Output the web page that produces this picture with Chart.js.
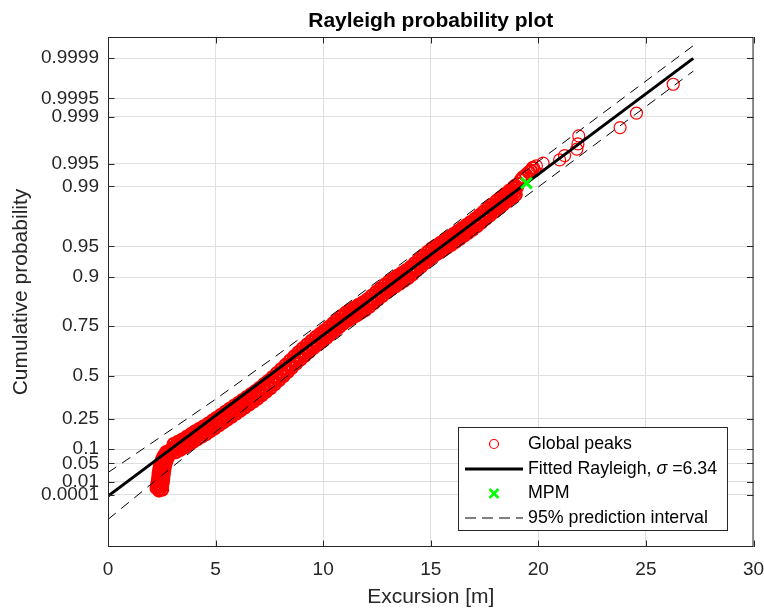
<!DOCTYPE html>
<html>
<head>
<meta charset="utf-8">
<title>Rayleigh probability plot</title>
<script src="https://cdn.jsdelivr.net/npm/chart.js@4.4.1/dist/chart.umd.min.js"></script>
<style>
  html, body { margin: 0; padding: 0; background: #ffffff; }
  #wrap { width: 764px; height: 610px; }
</style>
</head>
<body>
<div id="wrap"><canvas id="probCanvas" width="764" height="610"></canvas></div>
<script>
// Rayleigh scale parameter of the fit
const sigma = 6.34;

// probability levels on the y axis
const probTicks = [0.0001, 0.01, 0.05, 0.1, 0.25, 0.5, 0.75, 0.9, 0.95, 0.99, 0.995, 0.999, 0.9995, 0.9999];
const probLabels = ["0.0001", "0.01", "0.05", "0.1", "0.25", "0.5", "0.75", "0.9", "0.95", "0.99", "0.995", "0.999", "0.9995", "0.9999"];

// global peaks: excursion [m] and Rayleigh variate sqrt(-2 ln(1-P))
const peakExcursion = [
  // smallest peaks, steep part
  2.37, 2.42, 2.33, 2.46, 2.36, 2.49, 2.38, 2.51, 2.40, 2.53, 2.42, 2.55, 2.45, 2.58, 2.48, 2.62, 2.53, 2.68, 2.60, 2.75, 2.70, 2.85, 2.80, 2.95,
  2.515, 2.255, 2.515, 2.29, 2.545, 2.315, 2.565, 2.335, 2.585, 2.355, 2.605, 2.38, 2.635, 2.41, 2.67, 2.455, 2.725, 2.52, 2.795, 2.605, 2.895, 2.705, 2.995,
  // main body
  3.0, 3.1, 3.2, 3.3, 3.4, 3.5, 3.6, 3.7, 3.8, 3.9,
  4.0, 4.1, 4.2, 4.3, 4.4, 4.5, 4.6, 4.7, 4.8, 4.9,
  5.0, 5.1, 5.2, 5.3, 5.4, 5.5, 5.6, 5.7, 5.8, 5.9,
  6.0, 6.1, 6.2, 6.3, 6.4, 6.5, 6.6, 6.7, 6.8, 6.9,
  7.0, 7.1, 7.2, 7.3, 7.4, 7.5, 7.6, 7.7, 7.8, 7.9,
  8.0, 8.1, 8.2, 8.3, 8.4, 8.5, 8.6, 8.7, 8.8, 8.9,
  9.0, 9.1, 9.2, 9.3, 9.4, 9.5, 9.6, 9.7, 9.8, 9.9,
  10.0, 10.1, 10.2, 10.3, 10.4, 10.5, 10.6, 10.7, 10.8, 10.9,
  11.0, 11.1, 11.2, 11.3, 11.4, 11.5, 11.6, 11.7, 11.8, 11.9,
  12.0, 12.1, 12.2, 12.3, 12.4, 12.5, 12.6, 12.7, 12.8, 12.9,
  13.0, 13.1, 13.2, 13.3, 13.4, 13.5, 13.6, 13.7, 13.8, 13.9,
  14.0, 14.1, 14.2, 14.3, 14.4, 14.5, 14.6, 14.7, 14.8, 14.9,
  15.0, 15.1, 15.2, 15.3, 15.4, 15.5, 15.6, 15.7, 15.8, 15.9,
  16.0, 16.1, 16.2, 16.3, 16.4, 16.5, 16.6, 16.7, 16.8, 16.9,
  17.0, 17.1, 17.2, 17.3, 17.4, 17.5, 17.6, 17.7, 17.8, 17.9,
  18.0, 18.1, 18.2, 18.3, 18.4, 18.5, 18.6, 18.7, 18.8, 18.9,
  19.0,
  3.05, 3.15, 3.25, 3.35, 3.45, 3.55, 3.65, 3.75, 3.85, 3.95,
  4.05, 4.15, 4.25, 4.35, 4.45, 4.55, 4.65, 4.75, 4.85, 4.95,
  5.05, 5.15, 5.25, 5.35, 5.45, 5.55, 5.65, 5.75, 5.85, 5.95,
  6.05, 6.15, 6.25, 6.35, 6.45, 6.55, 6.65, 6.75, 6.85, 6.95,
  7.05, 7.15, 7.25, 7.35, 7.45, 7.55, 7.65, 7.75, 7.85, 7.95,
  8.05, 8.15, 8.25, 8.35, 8.45, 8.55, 8.65, 8.75, 8.85, 8.95,
  9.05, 9.15, 9.25, 9.35, 9.45, 9.55, 9.65, 9.75, 9.85, 9.95,
  10.05, 10.15, 10.25, 10.35, 10.45, 10.55, 10.65, 10.75, 10.85, 10.95,
  11.05, 11.15, 11.25, 11.35, 11.45, 11.55, 11.65, 11.75, 11.85, 11.95,
  12.05, 12.15, 12.25, 12.35, 12.45, 12.55, 12.65, 12.75, 12.85, 12.95,
  13.05, 13.15, 13.25, 13.35, 13.45, 13.55, 13.65, 13.75, 13.85, 13.95,
  14.05, 14.15, 14.25, 14.35, 14.45, 14.55, 14.65, 14.75, 14.85, 14.95,
  15.05, 15.15, 15.25, 15.35, 15.45, 15.55, 15.65, 15.75, 15.85, 15.95,
  16.05, 16.15, 16.25, 16.35, 16.45, 16.55, 16.65, 16.75, 16.85, 16.95,
  17.05, 17.15, 17.25, 17.35, 17.45, 17.55, 17.65, 17.75, 17.85, 17.95,
  18.05, 18.15, 18.25, 18.35, 18.45, 18.55, 18.65, 18.75, 18.85, 18.95,
  // upper tail
  18.60, 18.78, 18.92, 19.06, 19.20, 19.29, 19.43, 19.56, 19.66, 19.75,
  19.83, 19.91, 20.22, 20.99, 21.22, 21.79, 21.84, 21.88, 23.80, 24.56, 26.27
];
const peakVariate = [
  0.053, 0.070, 0.088, 0.105, 0.122, 0.140, 0.158, 0.176, 0.194, 0.212, 0.230, 0.248, 0.266, 0.284, 0.302, 0.320, 0.338, 0.356, 0.374, 0.392, 0.408, 0.424, 0.438, 0.452,
  0.062, 0.079, 0.097, 0.114, 0.131, 0.149, 0.167, 0.185, 0.203, 0.221, 0.239, 0.257, 0.275, 0.293, 0.311, 0.329, 0.347, 0.365, 0.383, 0.400, 0.416, 0.431, 0.445,
  0.474, 0.454, 0.495, 0.476, 0.517, 0.498, 0.542, 0.526, 0.569, 0.553,
  0.597, 0.580, 0.622, 0.604, 0.647, 0.629, 0.672, 0.656, 0.701, 0.685,
  0.730, 0.714, 0.758, 0.743, 0.787, 0.772, 0.816, 0.801, 0.845, 0.830,
  0.874, 0.859, 0.904, 0.888, 0.933, 0.917, 0.962, 0.946, 0.991, 0.975,
  1.022, 1.010, 1.057, 1.044, 1.091, 1.078, 1.126, 1.116, 1.166, 1.156,
  1.205, 1.195, 1.245, 1.235, 1.286, 1.277, 1.327, 1.318, 1.369, 1.359,
  1.408, 1.397, 1.445, 1.434, 1.482, 1.471, 1.519, 1.505, 1.551, 1.537,
  1.583, 1.570, 1.618, 1.606, 1.653, 1.641, 1.689, 1.677, 1.724, 1.712,
  1.760, 1.743, 1.786, 1.768, 1.811, 1.794, 1.837, 1.820, 1.863, 1.845,
  1.888, 1.876, 1.924, 1.911, 1.959, 1.947, 1.995, 1.982, 2.030, 2.018,
  2.066, 2.049, 2.093, 2.077, 2.121, 2.105, 2.148, 2.132, 2.176, 2.160,
  2.204, 2.192, 2.241, 2.230, 2.279, 2.267, 2.316, 2.305, 2.353, 2.342,
  2.391, 2.375, 2.418, 2.402, 2.446, 2.430, 2.474, 2.458, 2.501, 2.485,
  2.529, 2.514, 2.558, 2.543, 2.588, 2.573, 2.618, 2.602, 2.647, 2.632,
  2.677, 2.665, 2.712, 2.700, 2.748, 2.736, 2.783, 2.771, 2.819, 2.806,
  2.854, 2.841, 2.888, 2.874, 2.921, 2.908, 2.955, 2.941, 2.988, 2.975,
  3.022,
  0.509, 0.430, 0.531, 0.452, 0.553, 0.475, 0.579, 0.503, 0.606, 0.530,
  0.634, 0.556, 0.658, 0.581, 0.683, 0.606, 0.709, 0.634, 0.738, 0.663,
  0.767, 0.691, 0.796, 0.720, 0.825, 0.749, 0.854, 0.778, 0.883, 0.807,
  0.912, 0.837, 0.941, 0.866, 0.970, 0.895, 0.999, 0.924, 1.028, 0.954,
  1.061, 0.989, 1.096, 1.023, 1.130, 1.057, 1.166, 1.096, 1.206, 1.136,
  1.245, 1.175, 1.285, 1.216, 1.327, 1.257, 1.368, 1.299, 1.409, 1.339,
  1.448, 1.376, 1.485, 1.413, 1.522, 1.450, 1.557, 1.483, 1.589, 1.515,
  1.622, 1.549, 1.657, 1.585, 1.692, 1.620, 1.728, 1.656, 1.763, 1.691,
  1.797, 1.720, 1.822, 1.745, 1.848, 1.771, 1.874, 1.797, 1.899, 1.822,
  1.927, 1.855, 1.963, 1.890, 1.998, 1.926, 2.034, 1.961, 2.069, 1.997,
  2.103, 2.026, 2.130, 2.054, 2.158, 2.082, 2.185, 2.109, 2.213, 2.137,
  2.243, 2.172, 2.281, 2.210, 2.318, 2.247, 2.356, 2.284, 2.393, 2.322,
  2.428, 2.352, 2.455, 2.379, 2.483, 2.407, 2.511, 2.435, 2.538, 2.462,
  2.567, 2.491, 2.596, 2.521, 2.626, 2.551, 2.655, 2.580, 2.685, 2.610,
  2.716, 2.644, 2.751, 2.679, 2.787, 2.715, 2.822, 2.750, 2.858, 2.785,
  2.893, 2.820, 2.926, 2.853, 2.960, 2.887, 2.993, 2.920, 3.027, 2.954,
  2.972, 3.002, 3.041, 3.060, 3.100, 3.124, 3.148, 3.173, 3.188, 3.217,
  3.191, 3.237, 3.263, 3.295, 3.337, 3.400, 3.452, 3.530, 3.612, 3.753, 4.037
];

// most probable maximum
const mpmExcursion = [19.45];
const mpmVariate = [3.068];

// extent of the fitted line
const fitExcursion = [0, 27.2];

// 95% prediction interval bounds
const bandExcursion = [0, 2, 5, 8, 12, 16, 20, 24, 27.2];
const upperVariate = [0.230, 0.515, 0.949, 1.402, 2.023, 2.649, 3.280, 3.911, 4.415];
const lowerVariate = [-0.230, 0.116, 0.629, 1.122, 1.763, 2.399, 3.030, 3.661, 4.165];

const FONT = '"Liberation Sans", Arial, Helvetica, sans-serif';
const AXIS_COLOR = "#262626";
const GRID_COLOR = "#dfdfdf";

// reduced variate used as the linear coordinate of the probability axis
function rayleighVariate(p) {
  return Math.sqrt(-2 * Math.log(1 - p));
}

function toPoints(xs, ys) {
  return xs.map((x, i) => ({ x: x, y: ys[i] }));
}

const peaks = toPoints(peakExcursion, peakVariate);
const mpm = toPoints(mpmExcursion, mpmVariate);
const fitLine = fitExcursion.map(x => ({ x: x, y: x / sigma }));
const upperBand = toPoints(bandExcursion, upperVariate);
const lowerBand = toPoints(bandExcursion, lowerVariate);

// box around the axes with inward tick marks
const framePlugin = {
  id: "axesFrame",
  afterDatasetsDraw(chart) {
    const { ctx, chartArea: a, scales } = chart;
    const tick = 6.5;
    ctx.save();
    ctx.strokeStyle = AXIS_COLOR;
    ctx.lineWidth = 1;
    ctx.beginPath();
    scales.x.ticks.forEach(t => {
      const px = Math.round(scales.x.getPixelForValue(t.value)) + 0.5;
      ctx.moveTo(px, a.bottom); ctx.lineTo(px, a.bottom - tick);
      ctx.moveTo(px, a.top); ctx.lineTo(px, a.top + tick);
    });
    scales.y.ticks.forEach(t => {
      const py = Math.round(scales.y.getPixelForValue(t.value)) + 0.5;
      ctx.moveTo(a.left, py); ctx.lineTo(a.left + tick, py);
      ctx.moveTo(a.right, py); ctx.lineTo(a.right - tick, py);
    });
    ctx.stroke();
    ctx.strokeRect(a.left + 0.5, a.top + 0.5, a.right - a.left - 1, a.bottom - a.top - 1);
    ctx.restore();
  }
};

// title centred over the plotting area
const titlePlugin = {
  id: "plotTitle",
  afterDraw(chart) {
    const { ctx, chartArea: a } = chart;
    ctx.save();
    ctx.fillStyle = "#000000";
    ctx.font = "bold 21px " + FONT;
    ctx.textAlign = "center";
    ctx.textBaseline = "alphabetic";
    ctx.fillText("Rayleigh probability plot", (a.left + a.right) / 2, 27);
    ctx.restore();
  }
};

// legend box in the lower right corner
const legendPlugin = {
  id: "peakLegend",
  afterDraw(chart) {
    const ctx = chart.ctx;
    const ds = chart.data.datasets;
    const box = { left: 458.5, top: 427.5, right: 727.5, bottom: 530.5 };
    const rows = [444, 469, 493.5, 518];
    const symX = 494, lineL = 465, lineR = 523, textX = 528;

    ctx.save();
    ctx.fillStyle = "#ffffff";
    ctx.fillRect(box.left, box.top, box.right - box.left, box.bottom - box.top);
    ctx.strokeStyle = AXIS_COLOR;
    ctx.lineWidth = 1;
    ctx.strokeRect(box.left, box.top, box.right - box.left, box.bottom - box.top);

    // Global peaks
    ctx.strokeStyle = ds[0].borderColor;
    ctx.lineWidth = 1.2;
    ctx.beginPath();
    ctx.arc(symX, rows[0], 4.5, 0, Math.PI * 2);
    ctx.stroke();

    // fitted line
    ctx.strokeStyle = ds[1].borderColor;
    ctx.lineWidth = ds[1].borderWidth;
    ctx.beginPath();
    ctx.moveTo(lineL, rows[1]); ctx.lineTo(lineR, rows[1]);
    ctx.stroke();

    // MPM cross
    ctx.strokeStyle = ds[2].borderColor;
    ctx.lineWidth = 2.5;
    const h = 4.5;
    ctx.beginPath();
    ctx.moveTo(symX - h, rows[2] - h); ctx.lineTo(symX + h, rows[2] + h);
    ctx.moveTo(symX - h, rows[2] + h); ctx.lineTo(symX + h, rows[2] - h);
    ctx.stroke();

    // prediction interval
    ctx.strokeStyle = ds[3].borderColor;
    ctx.lineWidth = 1;
    ctx.setLineDash([11, 6]);
    ctx.beginPath();
    ctx.moveTo(lineL, rows[3]); ctx.lineTo(lineR, rows[3]);
    ctx.stroke();
    ctx.setLineDash([]);

    ctx.fillStyle = "#000000";
    ctx.textBaseline = "middle";
    ctx.textAlign = "left";
    const normal = "17.8px " + FONT;
    ctx.font = normal;
    ctx.fillText("Global peaks", textX, rows[0]);

    let x = textX;
    const head = "Fitted Rayleigh, ";
    ctx.fillText(head, x, rows[1]);
    x += ctx.measureText(head).width;
    ctx.font = "italic 17.8px " + FONT;
    ctx.fillText("\u03c3", x, rows[1]);
    x += ctx.measureText("\u03c3").width;
    ctx.font = normal;
    ctx.fillText(" =" + sigma.toFixed(2), x, rows[1]);

    ctx.fillText("MPM", textX, rows[2]);
    ctx.fillText("95% prediction interval", textX, rows[3]);
    ctx.restore();
  }
};

const ctx = document.getElementById("probCanvas").getContext("2d");

new Chart(ctx, {
  type: "scatter",
  data: {
    datasets: [
      {
        label: "Global peaks",
        data: peaks,
        pointStyle: "circle",
        pointRadius: 6,
        borderColor: "#ff0000",
        backgroundColor: "rgba(0,0,0,0)",
        // heavier rings where the peaks pile up, thin ones in the sparse tail
        borderWidth: c => (c.raw && c.raw.x < 19.8 ? 2.2 : 1.2),
        order: 3
      },
      {
        label: "Fitted Rayleigh",
        data: fitLine,
        showLine: true,
        borderColor: "#000000",
        borderWidth: 3,
        pointRadius: 0,
        order: 2
      },
      {
        label: "MPM",
        data: mpm,
        pointStyle: "crossRot",
        pointRadius: 7.5,
        borderColor: "#00ff00",
        backgroundColor: "#00ff00",
        borderWidth: 3,
        order: 0
      },
      {
        label: "95% prediction interval",
        data: upperBand,
        showLine: true,
        borderColor: "#000000",
        borderWidth: 1,
        borderDash: [10, 7],
        pointRadius: 0,
        order: 1
      },
      {
        label: "95% prediction interval (lower)",
        data: lowerBand,
        showLine: true,
        borderColor: "#000000",
        borderWidth: 1,
        borderDash: [10, 7],
        pointRadius: 0,
        order: 1
      }
    ]
  },
  options: {
    responsive: false,
    animation: false,
    devicePixelRatio: 1,
    layout: { padding: { top: 37, right: 8, bottom: 0, left: 0 } },
    plugins: {
      legend: { display: false },
      title: { display: false },
      tooltip: { enabled: false }
    },
    scales: {
      x: {
        type: "linear",
        min: 0,
        max: 30,
        grid: { color: GRID_COLOR, drawTicks: false },
        border: { display: false },
        ticks: {
          stepSize: 5,
          color: AXIS_COLOR,
          font: { family: FONT, size: 19 },
          padding: 11,
          maxRotation: 0,
          autoSkip: false
        },
        title: {
          display: true,
          text: "Excursion [m]",
          color: AXIS_COLOR,
          font: { family: FONT, size: 21 },
          padding: { top: 0, bottom: 0 }
        },
        afterFit: s => { s.height = 63; s.paddingLeft = 0; s.paddingRight = 0; }
      },
      y: {
        type: "linear",
        min: -0.5,
        max: 4.5,
        grid: { color: GRID_COLOR, drawTicks: false },
        border: { display: false },
        afterBuildTicks: s => {
          s.ticks = probTicks.map(p => ({ value: rayleighVariate(p) }));
        },
        ticks: {
          callback: (v, i) => probLabels[i],
          color: AXIS_COLOR,
          font: { family: FONT, size: 19 },
          padding: 9,
          autoSkip: false
        },
        title: {
          display: true,
          text: "Cumulative probability",
          color: AXIS_COLOR,
          font: { family: FONT, size: 21 },
          padding: { top: 8.5, bottom: 0 }
        },
        afterFit: s => { s.width = 108; s.paddingTop = 0; s.paddingBottom = 0; }
      }
    }
  },
  plugins: [framePlugin, titlePlugin, legendPlugin]
});
</script>
</body>
</html>
